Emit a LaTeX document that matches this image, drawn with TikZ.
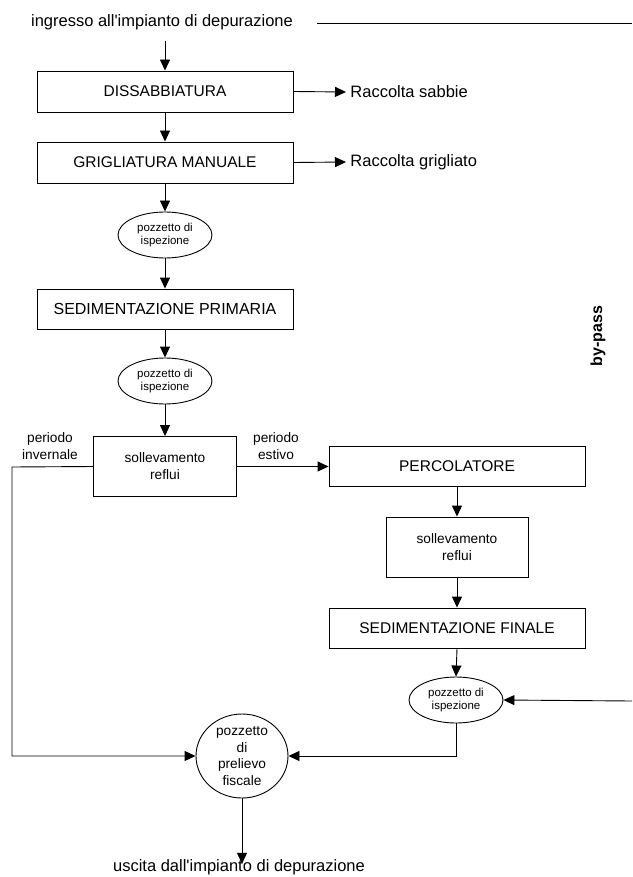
\documentclass[tikz,border=0pt]{standalone}
\usepackage{fontspec}
\setmainfont{Liberation Sans}
\usetikzlibrary{arrows.meta,shapes.geometric}
\tikzset{
  blk/.style = {draw=black, rectangle, inner sep=0pt, align=center,
    font=\fontsize{15.5}{18}\selectfont},% process box
  pz/.style = {draw=black, ellipse, inner sep=0pt, align=center,
    minimum width=94pt, minimum height=46pt,
    font=\fontsize{11.5}{13.5}\selectfont},% pozzetto
  lbl/.style = {inner sep=0pt, align=center,
    font=\fontsize{13.7}{17}\selectfont},
  big/.style = {inner sep=0pt, font=\fontsize{16.5}{19}\selectfont}
}
\begin{document}
\begin{tikzpicture}[x=1pt,y=-1pt,line width=0.9pt,
  >={Triangle[length=11pt,width=10pt]}]
\useasboundingbox (0,0) rectangle (632,877);
% linea principale
\node [big] (in) at (162,22) {ingresso all\textquotesingle impianto di depurazione};
\coordinate (inTop) at (165,41);
\node [blk, minimum width=256pt, minimum height=41pt] (diss) at (165,91.5) {DISSABBIATURA};
\node [blk, minimum width=256pt, minimum height=41pt] (grig) at (165,162.5) {GRIGLIATURA MANUALE};
\node [pz] (pzA) at (165,235) {pozzetto di\\ispezione};
\node [blk, minimum width=256pt, minimum height=40pt, font=\fontsize{16}{18}\selectfont] (sedp) at (165,309) {SEDIMENTAZIONE PRIMARIA};
\node [pz] (pzB) at (165,381) {pozzetto di\\ispezione};
\node [blk, lbl, draw=black, minimum width=143pt, minimum height=60pt] (sollA) at (165,466.5) {sollevamento\\reflui};
% uscite laterali
\node [big, anchor=west] (sab) at (350,92) {Raccolta sabbie};
\node [big, anchor=west] (gri) at (350,162) {Raccolta grigliato};
\node [lbl] (inv) at (50,446) {periodo\\invernale};
\node [lbl] (est) at (276,446) {periodo\\estivo};
% ramo estivo
\node [blk, minimum width=256pt, minimum height=40pt] (perc) at (457,466.5) {PERCOLATORE};
\node [blk, lbl, draw=black, minimum width=142pt, minimum height=60pt] (sollB) at (457,547) {sollevamento\\reflui};
\node [blk, minimum width=256pt, minimum height=40pt] (sedf) at (457,628) {SEDIMENTAZIONE FINALE};
\node [pz] (pzC) at (456,700) {pozzetto di\\ispezione};
% uscita
\node [lbl, draw=black, ellipse, minimum width=92pt, minimum height=84pt,
  font=\fontsize{13.7}{16.5}\selectfont] (fisc) at (242,756) {pozzetto\\di\\prelievo\\fiscale};
\node [big] (out) at (239,867) {uscita dall\textquotesingle impianto di depurazione};
% by-pass
\node [rotate=90, inner sep=0pt, font=\bfseries\fontsize{16}{18}\selectfont] (bp) at (598,336) {by-pass};
\coordinate (bpA) at (317,23);
\coordinate (bpB) at (632,23);
\coordinate (bpC) at (632,701);
\coordinate (wl) at (12,467);

\draw [->] (inTop) -- (diss.north);
\draw [->] (diss) -- (grig);
\draw [->] (grig) -- (pzA);
\draw [->] (pzA) -- (sedp);
\draw [->] (sedp) -- (pzB);
\draw [->] (pzB) -- (sollA);
\draw [->] (diss.east) -- ([xshift=-4pt]sab.west);
\draw [->] (grig.east) -- ([xshift=-4pt]gri.west);
\draw [->] (sollA.east) -- (perc.west);
\draw [->] (perc) -- (sollB);
\draw [->] (sollB) -- (sedf);
\draw [->] (sedf.south) -- (pzC.north);
\draw [->] (sollA.west) -- (wl) |- (fisc.west);
\draw [->] (pzC.south) |- (fisc.east);
\draw [->] (fisc.south) -- ([yshift=-5pt]fisc.south |- out.north);
\draw (bpA) -- (bpB);
\draw [->] (bpC) -- (pzC.east);
\end{tikzpicture}
\end{document}
